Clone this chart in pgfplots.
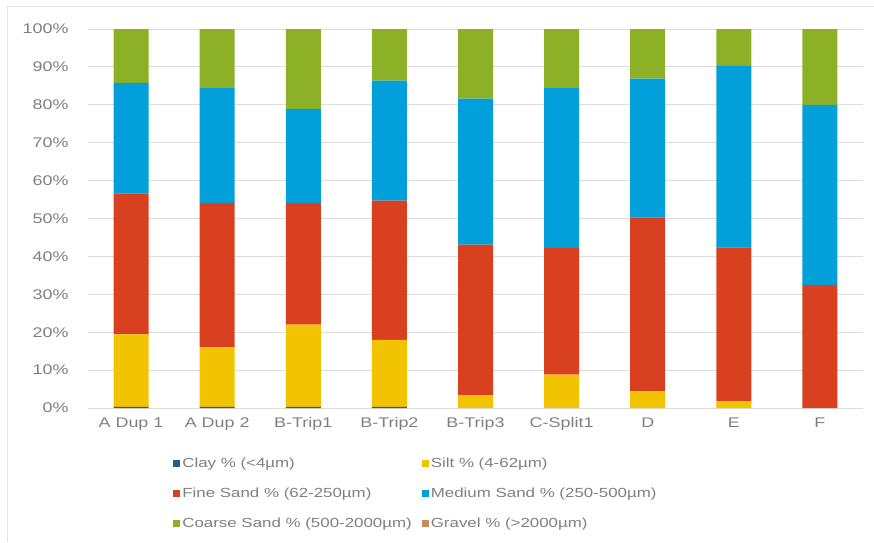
\documentclass[border=0pt]{standalone}
\usepackage{pgfplots}
\pgfplotsset{compat=1.18}
\usepackage{pgfplotstable}
\usepackage{fontspec}
\setmainfont{Liberation Sans}[FakeStretch=1.28]

\definecolor{clay}{HTML}{1F5F8B}
\definecolor{silt}{HTML}{F2C300}
\definecolor{fine}{HTML}{D8401F}
\definecolor{medium}{HTML}{02A0DB}
\definecolor{coarse}{HTML}{8CB026}
\definecolor{gravel}{HTML}{C98A5A}
\definecolor{txt}{HTML}{7F7F7F}
\definecolor{gridc}{HTML}{DCDCDC}
\definecolor{framec}{HTML}{E4E4E4}

% grain-size fractions (%) per sample
\pgfplotstableread{
x clay silt fine medium coarse gravel
0 0.3 19.1 37.2 29.2 14.2 0
1 0.3 15.7 38.1 30.3 15.6 0
2 0.3 21.7 32.1 24.8 21.1 0
3 0.3 17.7 36.7 31.7 13.6 0
4 0.0 3.3 39.8 38.5 18.4 0
5 0.0 8.8 33.4 42.2 15.6 0
6 0.0 4.4 45.9 36.6 13.1 0
7 0.0 1.8 40.6 47.9 9.7 0
8 0.0 0.0 32.5 47.5 20.0 0
}\grain

\pgfplotsset{
  sq legend/.style={legend image code/.code={\fill[##1,draw=none] (0pt,-3.5pt) rectangle (7pt,3.5pt);}},
}

\begin{document}
\begin{tikzpicture}[x=1pt,y=1pt]
\useasboundingbox (0,0) rectangle (874,542);
\draw[framec, line width=1pt] (7,0) -- (7,535) -- (874,535);
\begin{axis}[
  at={(88pt,134pt)}, anchor=south west,
  scale only axis, width=775pt, height=379pt,
  xmin=-0.5, xmax=8.5, ymin=0, ymax=100,
  ybar stacked, bar width=35pt,
  xtick={0,...,8},
  xticklabels={A Dup 1, A Dup 2, B-Trip1, B-Trip2, B-Trip3, C-Split1, D, E, F},
  ytick={0,10,...,100},
  yticklabels={0\%,10\%,20\%,30\%,40\%,50\%,60\%,70\%,80\%,90\%,100\%},
  ymajorgrids, grid style={gridc, line width=0.9pt},
  major tick length=0pt,
  axis line style={draw=none},
  tick label style={font=\fontsize{14}{16}\selectfont, text=txt},
  yticklabel style={xshift=-16pt},
  xticklabel style={yshift=-6pt},
  legend columns=2,
  legend cell align=left,
  legend style={draw=none, fill=none, at={(0.106,-0.12)}, anchor=north west,
    font=\fontsize{13.2}{15}\selectfont, text=txt,
    /tikz/every even column/.append style={column sep=8pt},
    row sep=15pt},
]
\addplot[fill=clay, draw=none, sq legend] table[x=x, y=clay] {\grain};
\addlegendentry{Clay \% (<4µm)}
\addplot[fill=silt, draw=none, sq legend] table[x=x, y=silt] {\grain};
\addlegendentry{Silt \% (4-62µm)}
\addplot[fill=fine, draw=none, sq legend] table[x=x, y=fine] {\grain};
\addlegendentry{Fine Sand \% (62-250µm)}
\addplot[fill=medium, draw=none, sq legend] table[x=x, y=medium] {\grain};
\addlegendentry{Medium Sand \% (250-500µm)}
\addplot[fill=coarse, draw=none, sq legend] table[x=x, y=coarse] {\grain};
\addlegendentry{Coarse Sand \% (500-2000µm)}
\addplot[fill=gravel, draw=none, sq legend] table[x=x, y=gravel] {\grain};
\addlegendentry{Gravel \% (>2000µm)}
\end{axis}
\end{tikzpicture}
\end{document}
